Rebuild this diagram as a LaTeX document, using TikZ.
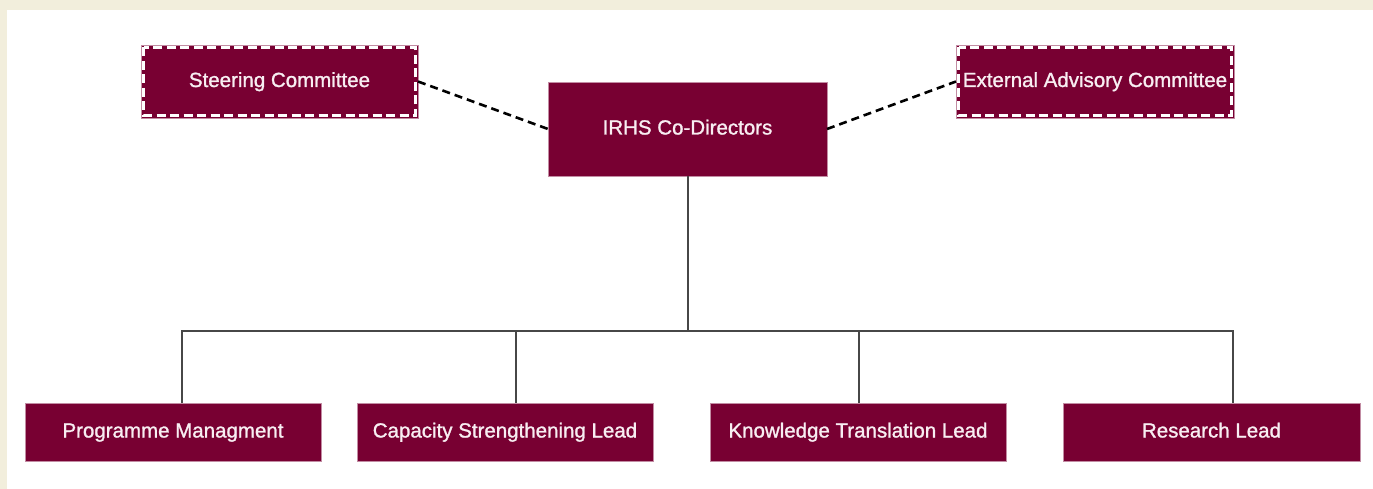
\documentclass[tikz,border=0pt]{standalone}
\usepackage{fontspec}
\setmainfont{Liberation Sans}
\newfontfamily\boxfont[FakeBold=1.2]{Liberation Sans}
\begin{document}
\begin{tikzpicture}[x=1pt,y=-1pt,
  every node/.style={inner sep=0pt, outer sep=0pt},
  orgbox/.style={fill=maroon, draw=maroon!45, line width=0.8pt, text=boxtext,
    font=\boxfont\fontsize{20.5}{24}\selectfont, align=center,
    text height=15pt, text depth=4pt},
  topbox/.style={orgbox, minimum width=279pt, minimum height=94pt},
  leadbox/.style={orgbox, minimum width=296pt, minimum height=58pt},
  committee/.style={orgbox, minimum height=73pt},
  committeeedge/.style={draw=white, line width=2.6pt, dash pattern=on 9pt off 4.5pt},
  dashlink/.style={draw=black, line width=2.6pt, dash pattern=on 8pt off 5pt},
  treelink/.style={draw=black!72, line width=2pt}
]
\definecolor{maroon}{HTML}{780032}
\definecolor{beige}{HTML}{F2EEDC}
\definecolor{boxtext}{HTML}{F8EEF2}

% page background and white panel
\fill[beige] (0,0) rectangle (1373,489);
\fill[white] (7,10) rectangle (1373,489);
\useasboundingbox (0,0) rectangle (1373,489);

% top level
\node[topbox] (cd) at (687.5,129) {IRHS Co-Directors};

% advisory committees with dashed outline
\node[committee, minimum width=277pt] (sc) at (279.5,81.5) {Steering Committee};
\node[committee, minimum width=278pt] (eac) at (1095,81.5) {External Advisory Committee};
\foreach \n in {sc,eac}{
  \draw[committeeedge]
    ([xshift=2.5pt,yshift=-2.5pt]\n.north west) rectangle ([xshift=-2.5pt,yshift=2.5pt]\n.south east);
}

% leads
\node[leadbox] (pm) at (173,432) {Programme Managment};
\node[leadbox] (cs) at (505,432) {Capacity Strengthening Lead};
\node[leadbox] (kt) at (858,432) {Knowledge Translation Lead};
\node[leadbox, minimum width=297pt] (rl) at (1211.5,432) {Research Lead};

% advisory links
\draw[dashlink] (sc.east) -- (cd.west);
\draw[dashlink] (cd.east) -- (eac.west);

% reporting tree
\coordinate (bus) at (687.5,331);
\coordinate (bl) at (182,331);
\coordinate (b2) at (516,331);
\coordinate (b3) at (859,331);
\coordinate (br) at (1233,331);
\draw[treelink] (cd.south) -- (bus);
\draw[treelink] (pm.north -| bl) -- (bl) -- (br) -- (rl.north -| br);
\draw[treelink] (b2) -- (cs.north -| b2);
\draw[treelink] (b3) -- (kt.north -| b3);
\end{tikzpicture}
\end{document}
